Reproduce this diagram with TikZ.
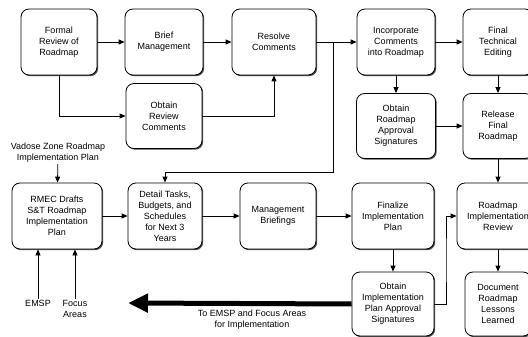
\documentclass[tikz,border=0pt]{standalone}
\usepackage{fontspec}
\setmainfont{Liberation Sans}
\usetikzlibrary{arrows.meta, positioning, shadows}

\begin{document}
\begin{tikzpicture}[x=1pt, y=-1pt, font=\fontsize{9}{11}\selectfont,
  >={Triangle[length=6pt, width=5pt]}, line width=0.8pt,
  box/.style={draw, rounded corners=8pt, fill=white, align=center, inner sep=1pt,
    minimum height=66pt, drop shadow={shadow xshift=1.2pt, shadow yshift=-1.2pt, fill=black!70, opacity=1}},
  lbl/.style={align=center, inner sep=1pt}]
  \clip (0,0) rectangle (528,337);
  % upper part
  \node[box, minimum width=76pt] (formal) at (59,42) {Formal\\Review of\\Roadmap};
  \node[box, minimum width=78pt] (brief) at (164,42) {Brief\\Management};
  \node[box, minimum width=84pt] (resolve) at (274,42) {Resolve\\Comments};
  \node[box, minimum width=76pt, minimum height=65pt] (obtrev) at (164,116) {Obtain\\Review\\Comments};
  \node[box, minimum width=78pt] (incorp) at (396,42) {Incorporate\\Comments\\into Roadmap};
  \node[box, minimum width=70pt] (final) at (498,42) {Final\\Technical\\Editing};
  \node[box, minimum width=79pt, minimum height=65pt] (obtsig) at (396,126) {Obtain\\Roadmap\\Approval\\Signatures};
  \node[box, minimum width=70pt, minimum height=65pt] (release) at (498,126) {Release\\Final\\Roadmap};
  % lower part
  \node[box, minimum width=90pt] (rmec) at (57,216) {RMEC Drafts\\S\&T Roadmap\\Implementation\\Plan};
  \node[box, minimum width=74pt] (detail) at (165,216) {Detail Tasks,\\Budgets, and\\Schedules\\for Next 3\\Years};
  \node[box, minimum width=76pt] (mgmt) at (278,216) {Management\\Briefings};
  \node[box, minimum width=82pt] (finalize) at (393,216) {Finalize\\Implementation\\Plan};
  \node[box, minimum width=82pt] (review) at (498,216) {Roadmap\\Implementation\\Review};
  \node[box, minimum width=82pt, minimum height=64pt] (implsig) at (393,304) {Obtain\\Implementation\\Plan Approval\\Signatures};
  \node[box, minimum width=66pt, minimum height=64pt] (doc) at (498,304) {Document\\Roadmap\\Lessons\\Learned};
  % free labels
  \node[lbl] (vadose) at (58,153) {Vadose Zone Roadmap\\Implementation Plan};
  \node[lbl, anchor=north] (emsp) at (38,299) {EMSP};
  \node[lbl, anchor=north] (focus) at (75,299) {Focus\\Areas};
  \node[lbl] (toemsp) at (252,320) {To EMSP and Focus Areas\\for Implementation};
  \coordinate (split) at (333,42);
  \coordinate (turn) at (333,172);
  \coordinate (jog) at (446,260);
  \coordinate (tip) at (128,303);
  % connectors
  \draw[->] (formal) -- (brief);
  \draw[->] (brief) -- (resolve);
  \draw[->] (formal.south) |- (obtrev.west);
  \draw[->] (obtrev.east) -| (resolve.south);
  \draw[->] (resolve) -- (incorp);
  \draw[->] (split) -- (turn) -| (detail.north);
  \draw[->] (incorp) -- (final);
  \draw[->] (incorp) -- (obtsig);
  \draw[->] (final) -- (release);
  \draw[->] (obtsig) -- (release);
  \draw[->] (release) -- (review);
  \draw[->] (vadose) -- (rmec);
  \draw[->] (emsp.north) -- (emsp.north |- rmec.south);
  \draw[->] (focus.north) -- (focus.north |- rmec.south);
  \draw[->] (rmec) -- (detail);
  \draw[->] (detail) -- (mgmt);
  \draw[->] (mgmt) -- (finalize);
  \draw[->] (finalize) -- (implsig);
  \draw[->] (implsig.east) -| (jog) |- (review.west);
  \draw[->] (review) -- (doc);
  \draw[line width=5pt, -{Triangle[length=20pt, width=18pt]}] (implsig.west) -- (tip);
\end{tikzpicture}
\end{document}
